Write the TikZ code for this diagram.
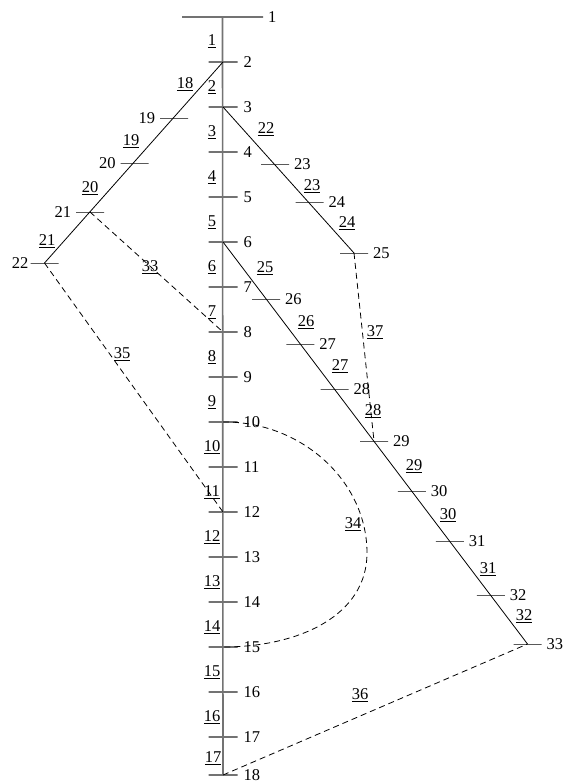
\documentclass[tikz,border=0pt]{standalone}
\usepackage{fontspec}
\setmainfont{Liberation Serif}
\begin{document}
\begin{tikzpicture}[x=1pt,y=-1pt,
  every node/.style={font=\fontsize{16.5}{18}\selectfont, inner sep=0pt, outer sep=0pt},
  mainline/.style={draw=black!55, line width=1.6pt},
  mbus/.style={draw=black!55, line width=1.4pt, rectangle, minimum width=29pt, minimum height=0pt},
  bbus/.style={draw=black, line width=0.9pt, rectangle, minimum width=28pt, minimum height=0pt},
  branch/.style={draw=black, line width=0.8pt},
  tie/.style={draw=black, line width=0.8pt, dash pattern=on 6pt off 4pt},
  lab/.style={},
  seg/.style={anchor=center}]
\path[use as bounding box] (0,0) rectangle (564,784);
% main feeder buses
\node[mbus, minimum width=81pt] (b1) at (222.5,17) {};
\node[mbus] (b2) at (223,62) {};
\node[mbus] (b3) at (223,107) {};
\node[mbus] (b4) at (223,152) {};
\node[mbus] (b5) at (223,197) {};
\node[mbus] (b6) at (223,242) {};
\node[mbus] (b7) at (223,287) {};
\node[mbus] (b8) at (223,332) {};
\node[mbus] (b9) at (223,377) {};
\node[mbus] (b10) at (223,422) {};
\node[mbus] (b11) at (223,467) {};
\node[mbus] (b12) at (223,512) {};
\node[mbus] (b13) at (223,557) {};
\node[mbus] (b14) at (223,602) {};
\node[mbus] (b15) at (223,647) {};
\node[mbus] (b16) at (223,692) {};
\node[mbus] (b17) at (223,737) {};
\node[mbus] (b18) at (223,775) {};
% left branch
\node[bbus] (b19) at (174,118) {};
\node[bbus] (b20) at (134.5,163) {};
\node[bbus] (b21) at (90,212) {};
\node[bbus] (b22) at (44.5,263) {};
% branch from 3
\node[bbus] (b23) at (275,164) {};
\node[bbus] (b24) at (309.5,202) {};
\node[bbus] (b25) at (354,253) {};
% branch from 6
\node[bbus] (b26) at (266.2,299) {};
\node[bbus] (b27) at (300.4,344) {};
\node[bbus] (b28) at (334.5,389) {};
\node[bbus] (b29) at (374,441) {};
\node[bbus] (b30) at (411.9,491) {};
\node[bbus] (b31) at (449.9,541) {};
\node[bbus] (b32) at (490.8,595) {};
\node[bbus] (b33) at (527.5,644) {};
% lines
\draw[mainline] (b1.center) -- (b18.center);
\draw[branch] (b2.center) -- (b22.center);
\draw[branch] (b3.center) -- (b25.center);
\draw[branch] (b6.center) -- (b33.center);
% tie lines
\coordinate (c34) at (367,553);
\draw[tie] (b21.center) -- (b8.center);
\draw[tie] (b22.center) -- (b12.center);
\draw[tie] (b10.center) .. controls (300,421) and (367,480) .. (c34) .. controls (367,615) and (300,647) .. (b15.center);
\draw[tie] (b25.center) -- (b29.center);
\draw[tie] (b18.center) -- (b33.center);
% bus labels
\node[lab, anchor=west] (n1) at ([xshift=5pt]b1.east) {1};
\foreach \i in {2,...,18}{
  \node[lab, anchor=west] (n\i) at ([xshift=6pt]b\i.east) {\i};
}
\foreach \i in {19,20,21}{
  \node[lab, anchor=east] (n\i) at ([xshift=-5pt]b\i.west) {\i};
}
\node[lab, anchor=east] (n22) at ([xshift=-2pt]b22.west) {22};
\foreach \i in {23,...,33}{
  \node[lab, anchor=west] (n\i) at ([xshift=5pt]b\i.east) {\i};
}
% branch (segment) labels on main feeder
\node[seg] (s1) at (212,41) {\underline{1}};
\node[seg] (s2) at (212,87) {\underline{2}};
\node[seg] (s3) at (212,132) {\underline{3}};
\node[seg] (s4) at (212,177) {\underline{4}};
\node[seg] (s5) at (212,222) {\underline{5}};
\node[seg] (s6) at (212,267) {\underline{6}};
\node[seg] (s7) at (212,312) {\underline{7}};
\node[seg] (s8) at (212,357) {\underline{8}};
\node[seg] (s9) at (212,402) {\underline{9}};
\node[seg] (s10) at (212,447) {\underline{10}};
\node[seg] (s11) at (212,492) {\underline{11}};
\node[seg] (s12) at (212,537) {\underline{12}};
\node[seg] (s13) at (212,582) {\underline{13}};
\node[seg] (s14) at (212,627) {\underline{14}};
\node[seg] (s15) at (212,672) {\underline{15}};
\node[seg] (s16) at (212,717) {\underline{16}};
\node[seg] (s17) at (213,758) {\underline{17}};
% left branch segment labels
\node[seg] (s18) at (185,84) {\underline{18}};
\node[seg] (s19) at (131,141) {\underline{19}};
\node[seg] (s20) at (90,188) {\underline{20}};
\node[seg] (s21) at (47,241) {\underline{21}};
% branch from 3
\node[seg] (s22) at (266,129) {\underline{22}};
\node[seg] (s23) at (312,186) {\underline{23}};
\node[seg] (s24) at (347,223) {\underline{24}};
% branch from 6
\node[seg] (s25) at (265,268) {\underline{25}};
\node[seg] (s26) at (306,322) {\underline{26}};
\node[seg] (s27) at (340,366) {\underline{27}};
\node[seg] (s28) at (373,411) {\underline{28}};
\node[seg] (s29) at (414,466) {\underline{29}};
\node[seg] (s30) at (448,515) {\underline{30}};
\node[seg] (s31) at (488,569) {\underline{31}};
\node[seg] (s32) at (524,616) {\underline{32}};
% tie labels
\node[seg] (s33) at (150,267) {\underline{33}};
\node[seg] (s34) at (353,524) {\underline{34}};
\node[seg] (s35) at (122,354) {\underline{35}};
\node[seg] (s36) at (360,695) {\underline{36}};
\node[seg] (s37) at (375,332) {\underline{37}};
\end{tikzpicture}
\end{document}
